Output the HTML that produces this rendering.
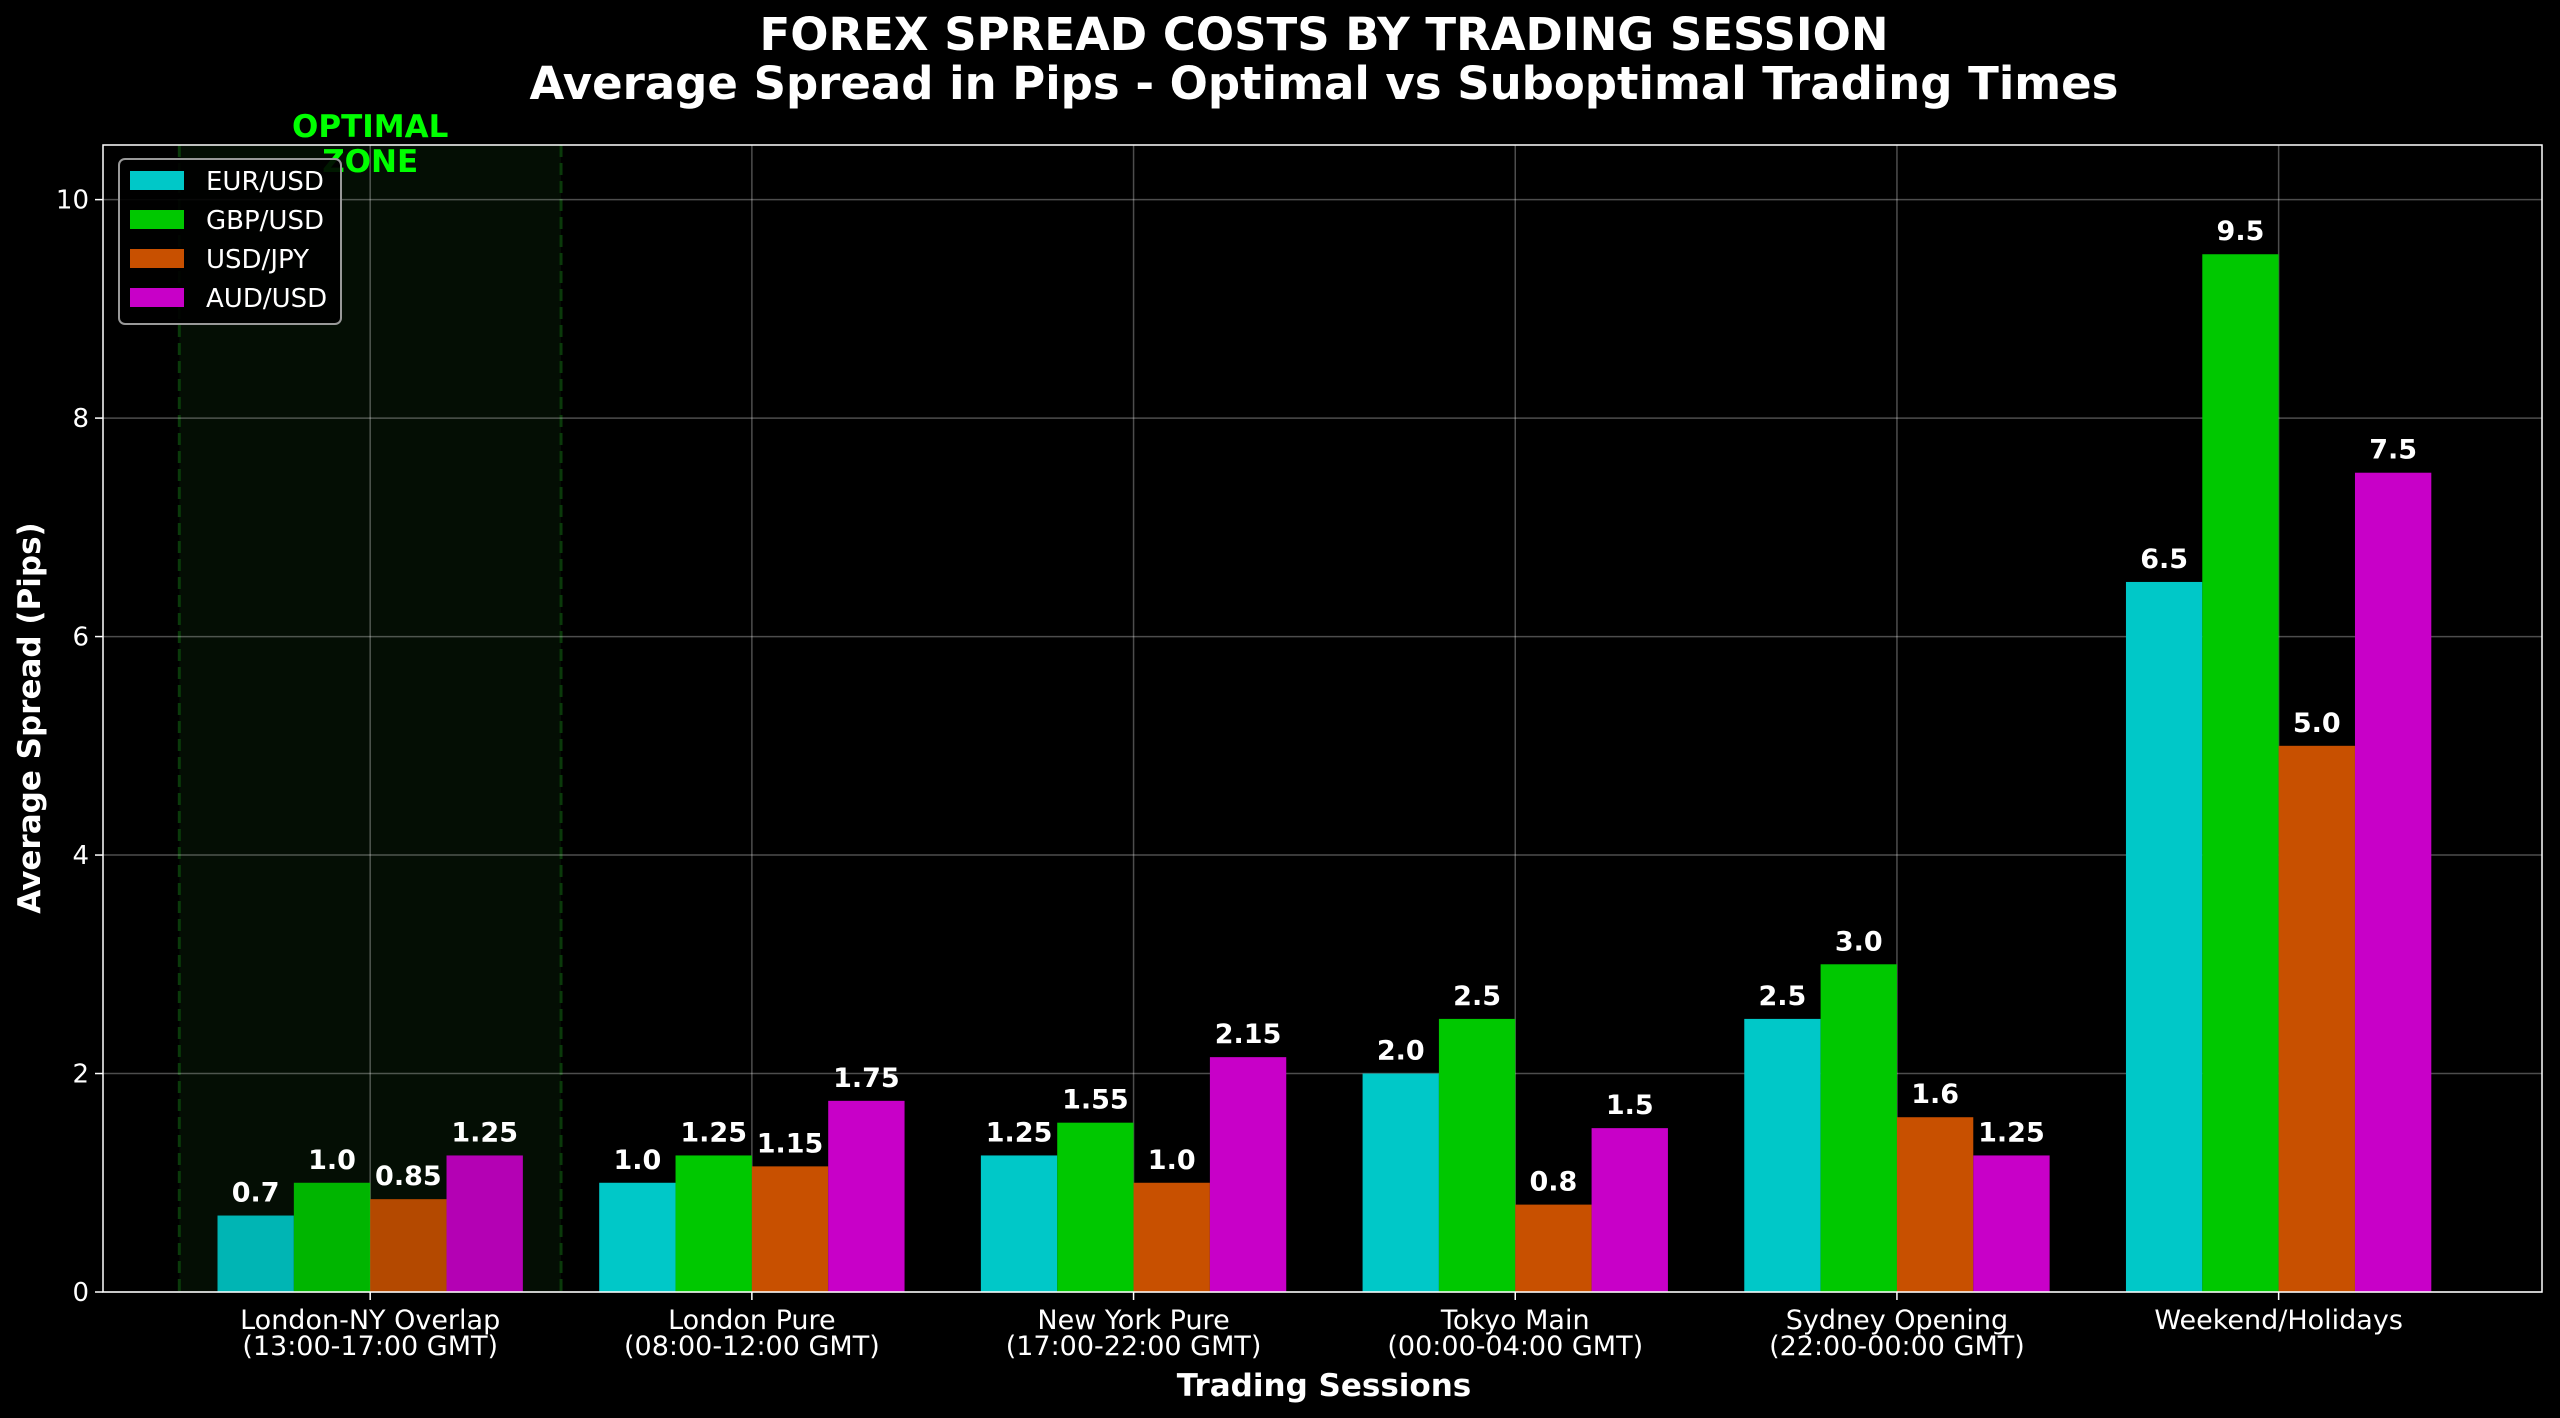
<!DOCTYPE html>
<html><head><meta charset="utf-8"><style>
html,body{margin:0;padding:0;background:#000;}
svg{display:block;font-family:"DejaVu Sans","Liberation Sans",sans-serif;}
</style></head><body>
<svg id="chart" width="2560" height="1418" viewBox="0 0 2560 1418" xmlns="http://www.w3.org/2000/svg">
<rect width="2560" height="1418" fill="#000"/>
</svg>
<script>
const categories = ["London-NY Overlap|(13:00-17:00 GMT)","London Pure|(08:00-12:00 GMT)","New York Pure|(17:00-22:00 GMT)","Tokyo Main|(00:00-04:00 GMT)","Sydney Opening|(22:00-00:00 GMT)","Weekend/Holidays"];
const seriesNames = ["EUR/USD","GBP/USD","USD/JPY","AUD/USD"];
const eurusd = [0.7,1.0,1.25,2.0,2.5,6.5];
const gbpusd = [1.0,1.25,1.55,2.5,3.0,9.5];
const usdjpy = [0.85,1.15,1.0,0.8,1.6,5.0];
const audusd = [1.25,1.75,2.15,1.5,1.25,7.5];
const valueLabels = [
 ["0.7","1.0","1.25","2.0","2.5","6.5"],
 ["1.0","1.25","1.55","2.5","3.0","9.5"],
 ["0.85","1.15","1.0","0.8","1.6","5.0"],
 ["1.25","1.75","2.15","1.5","1.25","7.5"]];
const yTicks = [0,2,4,6,8,10];
const colors = ["#00c8c8","#00c800","#c85000","#c800c8"];
const series = [eurusd,gbpusd,usdjpy,audusd];

const svg = document.getElementById('chart');
const NS = "http://www.w3.org/2000/svg";
const L=103, R=2542, T=145, B=1292;
const xMin=-0.7, xMax=5.69, yMin=0, yMax=10.5;
const X = v => L + (v - xMin)/(xMax-xMin)*(R-L);
const Y = v => B - (v - yMin)/(yMax-yMin)*(B-T);
function el(tag, attrs, parent){const e=document.createElementNS(NS,tag);for(const k in attrs)e.setAttribute(k,attrs[k]);(parent||svg).appendChild(e);return e;}
function txt(s, attrs){const e=el('text',attrs);e.textContent=s;return e;}

let z = el('rect',{x:X(-0.5),y:T,width:X(0.5)-X(-0.5),height:B-T,fill:"#040e04"});


[-0.5,0.5].forEach(v=>{
 let d=el('line',{x1:X(v),x2:X(v),y1:T,y2:B,stroke:"#0a3a0a","stroke-width":3,"stroke-dasharray":"12,6"});
 
 
});

yTicks.forEach(t=>{
 let g=el('line',{x1:L,x2:R,y1:Y(t),y2:Y(t),stroke:"#fff","stroke-opacity":0.3,"stroke-width":1.5});
 
 
});
categories.forEach((c,i)=>{
 let g=el('line',{x1:X(i),x2:X(i),y1:T,y2:B,stroke:"#fff","stroke-opacity":0.3,"stroke-width":1.5});
 
 
});

const bw = 0.2;
series.forEach((s,si)=>{
 s.forEach((v,ci)=>{
  const x0 = ci - 0.4 + si*bw;
  let r=el('rect',{x:X(x0),y:Y(v),width:X(x0+bw)-X(x0),height:Y(0)-Y(v),fill:colors[si],opacity:ci===0?0.9:1});
  
  
  let t=txt(valueLabels[si][ci],{x:X(x0+bw/2),y:Y(v)-14,fill:"#fff","font-size":27,"font-weight":"bold","text-anchor":"middle"});
  
  
 });
});

let ax=el('rect',{x:L,y:T,width:R-L,height:B-T,fill:"none",stroke:"#fff","stroke-width":1.5});



yTicks.forEach(t=>{
 el('line',{x1:L-8,x2:L,y1:Y(t),y2:Y(t),stroke:"#fff","stroke-width":1.5});
 let l=txt(String(t),{x:L-14,y:Y(t)+9,fill:"#fff","font-size":26,"text-anchor":"end"});
 
 
});
categories.forEach((c,i)=>{
 el('line',{x1:X(i),x2:X(i),y1:B,y2:B+8,stroke:"#fff","stroke-width":1.5});
 c.split('|').forEach((line,li)=>{
  let l=txt(line,{x:X(i),y:1329+li*26,fill:"#fff","font-size":27,"text-anchor":"middle"});
  
  
 });
});

["OPTIMAL","ZONE"].forEach((s,i)=>{
 let t=txt(s,{x:X(0),y:137+i*35,fill:"#00ff00","font-size":31,"font-weight":"bold","text-anchor":"middle"});
 
 
});

let lg=el('rect',{x:119,y:159,width:222,height:165,rx:6,fill:"#000","fill-opacity":0.9,stroke:"#999","stroke-width":2});


seriesNames.forEach((n,i)=>{
 let sw=el('rect',{x:130,y:171+i*39,width:54,height:19,fill:colors[i]});
 
 
 let t=txt(n,{x:206,y:190+i*39,fill:"#fff","font-size":26});
 
 
});

let t1=txt("FOREX SPREAD COSTS BY TRADING SESSION",{x:1324,y:50,fill:"#fff","font-size":45,"font-weight":"bold","text-anchor":"middle"});


let t2=txt("Average Spread in Pips - Optimal vs Suboptimal Trading Times",{x:1324,y:99,fill:"#fff","font-size":45,"font-weight":"bold","text-anchor":"middle"});


let xl=txt("Trading Sessions",{x:1324,y:1396,fill:"#fff","font-size":31,"font-weight":"bold","text-anchor":"middle"});


let yl=txt("Average Spread (Pips)",{x:0,y:0,fill:"#fff","font-size":31,"font-weight":"bold","text-anchor":"middle",transform:"translate(40,718) rotate(-90)"});


</script>
</body></html>
